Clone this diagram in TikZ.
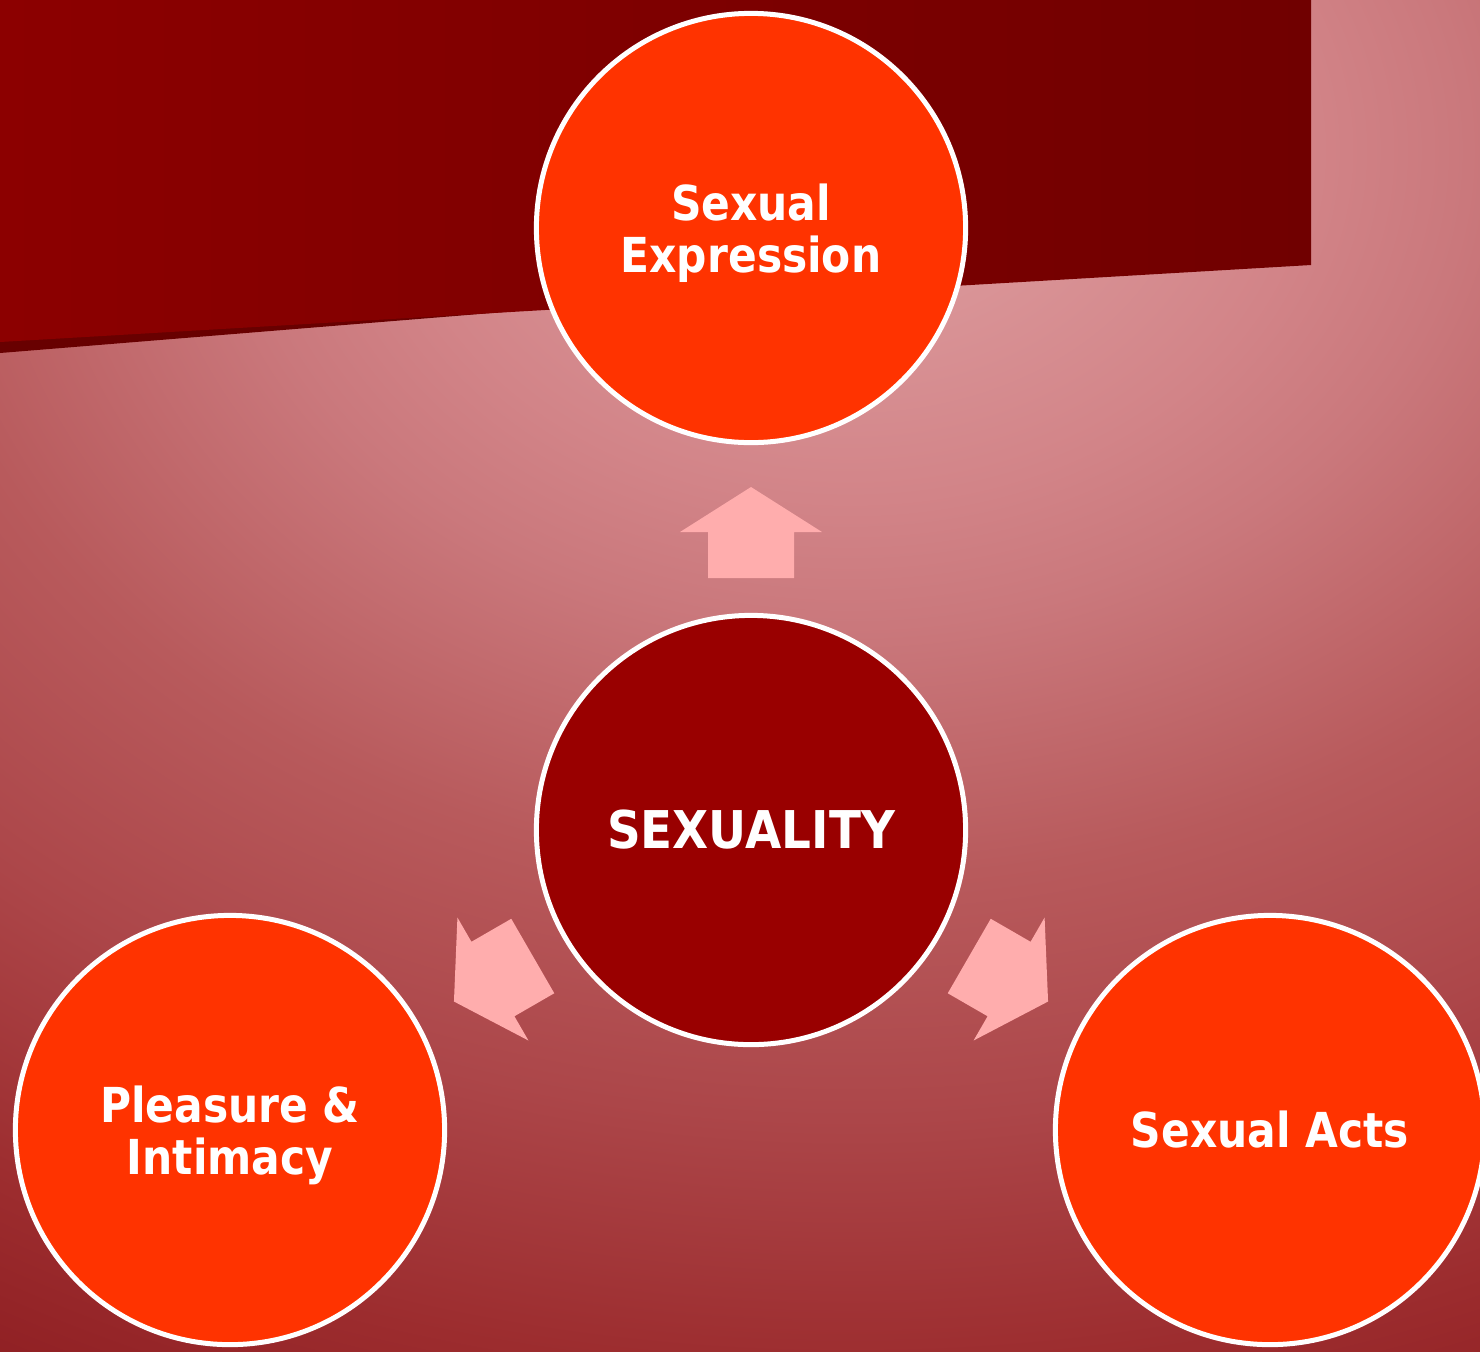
\documentclass[tikz,border=0pt]{standalone}
\usepackage{fontspec}
\newfontfamily\labelfont{DejaVu Sans}[FakeStretch=0.88]
\newfontfamily\hubfont{DejaVu Sans}[FakeStretch=0.9]

% backdrop colours, light centre to dark rim
\definecolor{bg0}{HTML}{E0A2A4}
\definecolor{bg1}{HTML}{D28488}
\definecolor{bg2}{HTML}{CA787C}
\definecolor{bg3}{HTML}{B85A5C}
\definecolor{bg4}{HTML}{AC4649}
\definecolor{bg5}{HTML}{9C2C2E}
\definecolor{bg6}{HTML}{8E1E22}
\definecolor{bandL}{HTML}{8C0000}
\definecolor{bandR}{HTML}{700000}
\definecolor{bandshadow}{HTML}{680000}
\definecolor{petalred}{HTML}{FF3300}
\definecolor{hubred}{HTML}{990000}
\definecolor{arrowpink}{HTML}{FFADAD}

% the path's edge sits at 25bp of the shading
\pgfdeclareradialshading{backdrop}{\pgfpointorigin}{%
  color(0bp)=(bg0); color(6.25bp)=(bg1); color(8.5bp)=(bg2);
  color(13bp)=(bg3); color(17.3bp)=(bg4); color(21.85bp)=(bg5);
  color(25bp)=(bg6); color(50bp)=(bg6)}

\begin{document}
\begin{tikzpicture}[x=0.01cm,y=-0.01cm,
  petal/.style={circle, draw=white, line width=0.05cm, fill=petalred,
    minimum size=4.29cm, inner sep=0pt, text=white, align=center,
    font=\labelfont\bfseries\fontsize{13.7pt}{14.8pt}\selectfont},
  twoline/.style={text depth=0pt},
  hub/.style={petal, fill=hubred,
    font=\hubfont\bfseries\fontsize{14.8pt}{16pt}\selectfont},
  blockarrow/.style={fill=arrowpink}]

\useasboundingbox (0,0) rectangle (1480,1351);
\clip (0,0) rectangle (1480,1351);

% backdrop
\path[shading=backdrop] (850,150) ellipse [x radius=1820, y radius=1400];

% dark title band with its shadow
\fill[bandshadow] (0,340) -- (590,305) -- (0,353) -- cycle;
\shade[left color=bandL, right color=bandR]
  (0,0) -- (1311,0) -- (1311,265) -- (0,342) -- cycle;

% circles
\node[hub]            (core) at (751,830)  {SEXUALITY};
\node[petal, twoline] (expr) at (751,228)  {Sexual\\Expression};
\node[petal, twoline] (plea) at (230,1130) {Pleasure \&\\Intimacy};
\node[petal]          (acts) at (1270,1130) {Sexual Acts};

% block arrows from the hub towards each circle
\foreach \ang in {0,120,-120}{
  \begin{scope}[shift={(core.center)}, rotate=\ang]
    \fill[blockarrow] (0,-343) -- (71,-298) -- (43,-298) -- (43,-252)
      -- (-43,-252) -- (-43,-298) -- (-71,-298) -- cycle;
  \end{scope}
}
\end{tikzpicture}
\end{document}
